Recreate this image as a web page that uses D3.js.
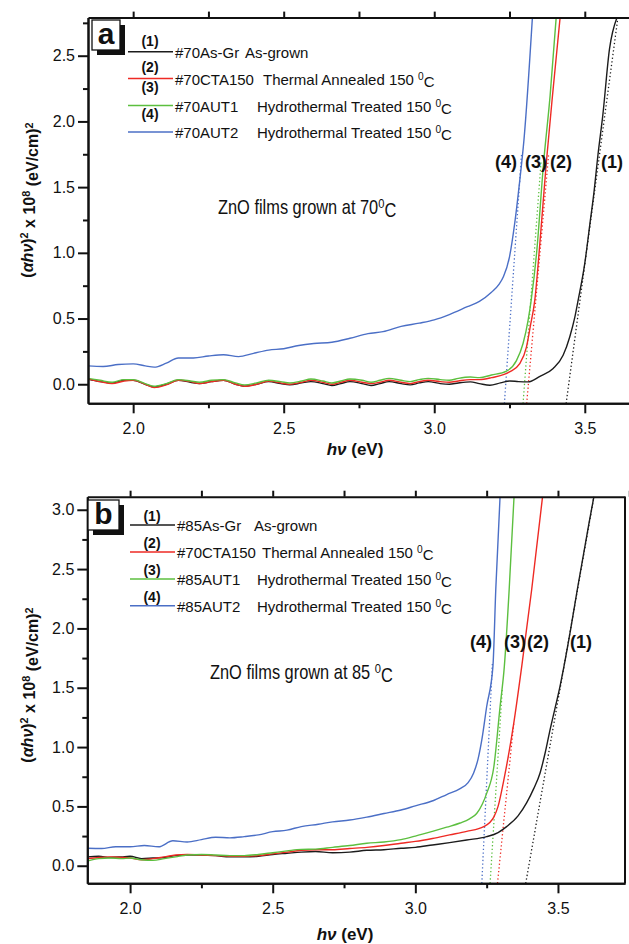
<!DOCTYPE html>
<html>
<head>
<meta charset="utf-8">
<script src="https://cdn.jsdelivr.net/npm/d3@7"></script>
<style>
  body { margin: 0; background: #fff; }
  text { font-family: "Liberation Sans", Arial, sans-serif; fill: #111; }
</style>
</head>
<body>
<script>
//-------- data --------

// panel a : films grown at 70 C  [hv (eV), (ahv)^2 x 1e8]
var a1 = [[1.85,0.04],[1.89,0.02],[1.93,0.01],[1.97,0.03],[2.00,0.03],[2.04,0.0],[2.07,-0.02],[2.11,0.0],[2.15,0.03],[2.19,0.015],
  [2.22,0.005],[2.26,0.02],[2.30,0.03],[2.34,0.0],[2.37,-0.015],[2.41,0.0],[2.45,0.02],[2.49,0.005],[2.52,-0.005],[2.56,0.01],
  [2.59,0.02],[2.63,0.005],[2.66,-0.01],[2.69,0.005],[2.72,0.02],[2.76,0.005],[2.79,-0.01],[2.82,0.005],[2.85,0.02],[2.89,0.005],
  [2.92,-0.005],[2.95,0.01],[2.98,0.02],[3.02,0.005],[3.05,0.0],[3.08,0.01],[3.12,0.018],[3.15,0.005],[3.185,-0.008],[3.22,0.01],
  [3.251,0.025],[3.28,0.02],[3.312,0.018],[3.351,0.06],[3.395,0.12],[3.428,0.22],[3.45,0.36],[3.467,0.51],[3.478,0.64],[3.50,0.92],
  [3.517,1.22],[3.53,1.45],[3.544,1.75],[3.56,2.05],[3.582,2.55],[3.607,2.79]];
var a2 = [[1.85,0.04],[1.89,0.02],[1.93,0.005],[1.97,0.025],[2.00,0.03],[2.04,0.0],[2.07,-0.025],[2.11,-0.005],[2.15,0.03],[2.19,0.02],
  [2.22,0.005],[2.26,0.02],[2.30,0.03],[2.34,0.0],[2.37,-0.015],[2.41,0.0],[2.45,0.025],[2.49,0.01],[2.52,0.0],[2.56,0.015],
  [2.59,0.03],[2.63,0.015],[2.66,0.0],[2.69,0.015],[2.72,0.03],[2.76,0.015],[2.79,0.005],[2.82,0.015],[2.85,0.03],[2.89,0.015],
  [2.92,0.005],[2.95,0.02],[2.98,0.03],[3.02,0.02],[3.05,0.015],[3.08,0.025],[3.12,0.035],[3.15,0.035],[3.19,0.05],[3.25,0.094],
  [3.284,0.157],[3.306,0.28],[3.319,0.44],[3.334,0.64],[3.35,1.05],[3.372,1.68],[3.395,2.25],[3.418,2.79]];
var a3 = [[1.85,0.045],[1.89,0.03],[1.93,0.015],[1.97,0.035],[2.00,0.035],[2.04,0.005],[2.07,-0.015],[2.11,0.005],[2.15,0.035],[2.19,0.025],
  [2.22,0.015],[2.26,0.03],[2.30,0.035],[2.34,0.01],[2.37,-0.005],[2.41,0.01],[2.45,0.03],[2.49,0.02],[2.52,0.01],[2.56,0.025],
  [2.59,0.04],[2.63,0.025],[2.66,0.01],[2.69,0.025],[2.72,0.04],[2.76,0.03],[2.79,0.015],[2.82,0.03],[2.85,0.045],[2.89,0.03],
  [2.92,0.02],[2.95,0.035],[2.98,0.045],[3.02,0.035],[3.05,0.03],[3.08,0.045],[3.12,0.055],[3.15,0.05],[3.19,0.07],[3.24,0.10],
  [3.273,0.18],[3.295,0.31],[3.312,0.49],[3.322,0.64],[3.34,1.0],[3.363,1.68],[3.385,2.2],[3.405,2.79]];
var a4 = [[1.85,0.14],[1.90,0.135],[1.95,0.15],[2.00,0.155],[2.04,0.14],[2.07,0.13],[2.11,0.16],[2.15,0.2],[2.20,0.2],[2.25,0.215],
  [2.30,0.225],[2.35,0.21],[2.40,0.235],[2.45,0.26],[2.50,0.27],[2.55,0.295],[2.60,0.31],[2.66,0.32],[2.72,0.35],[2.78,0.385],
  [2.83,0.40],[2.89,0.44],[2.95,0.465],[3.00,0.49],[3.05,0.53],[3.11,0.59],[3.15,0.63],[3.19,0.70],[3.215,0.76],[3.23,0.82],
  [3.25,0.97],[3.267,1.22],[3.284,1.55],[3.298,1.86],[3.326,2.79]];
// tangent (extrapolation) lines, panel a
var fitA = [[[3.438,-0.147],[3.61,2.79]], [[3.307,-0.147],[3.38,1.75]], [[3.295,-0.147],[3.355,1.7]], [[3.233,-0.147],[3.29,1.75]]];

// panel b : films grown at 85 C
var b1 = [[1.85,0.075],[1.89,0.08],[1.93,0.07],[1.97,0.075],[2.00,0.08],[2.04,0.06],[2.08,0.065],[2.12,0.07],[2.16,0.085],[2.20,0.09],
  [2.25,0.09],[2.30,0.085],[2.35,0.075],[2.40,0.075],[2.45,0.08],[2.50,0.095],[2.55,0.105],[2.60,0.115],[2.65,0.12],[2.71,0.11],
  [2.77,0.115],[2.83,0.13],[2.89,0.135],[2.95,0.147],[3.0,0.155],[3.06,0.175],[3.12,0.195],[3.18,0.217],[3.25,0.245],[3.29,0.28],
  [3.32,0.33],[3.36,0.42],[3.39,0.53],[3.415,0.65],[3.437,0.78],[3.455,0.95],[3.47,1.12],[3.49,1.33],[3.507,1.51],[3.521,1.68],
  [3.545,2.0],[3.568,2.33],[3.609,2.89],[3.626,3.11]];
var b2 = [[1.85,0.06],[1.89,0.07],[1.93,0.075],[1.97,0.07],[2.00,0.065],[2.04,0.05],[2.08,0.06],[2.12,0.075],[2.16,0.09],[2.20,0.095],
  [2.25,0.09],[2.30,0.085],[2.35,0.08],[2.40,0.08],[2.45,0.085],[2.50,0.1],[2.55,0.115],[2.60,0.13],[2.65,0.135],[2.71,0.135],
  [2.77,0.145],[2.83,0.155],[2.89,0.17],[2.95,0.19],[3.0,0.205],[3.06,0.23],[3.12,0.26],[3.18,0.29],[3.24,0.33],[3.275,0.41],
  [3.29,0.5],[3.31,0.72],[3.345,1.2],[3.373,1.68],[3.408,2.33],[3.446,3.11]];
var b3 = [[1.85,0.04],[1.89,0.06],[1.93,0.065],[1.97,0.06],[2.00,0.065],[2.04,0.05],[2.08,0.045],[2.12,0.06],[2.16,0.075],[2.20,0.09],
  [2.25,0.095],[2.30,0.09],[2.35,0.085],[2.40,0.085],[2.45,0.095],[2.50,0.11],[2.55,0.125],[2.60,0.138],[2.65,0.14],[2.71,0.155],
  [2.77,0.17],[2.83,0.19],[2.89,0.2],[2.95,0.22],[3.0,0.25],[3.06,0.29],[3.11,0.325],[3.157,0.36],[3.19,0.395],[3.215,0.44],
  [3.235,0.52],[3.25,0.61],[3.275,0.83],[3.297,1.34],[3.312,1.68],[3.329,2.33],[3.346,3.11]];
var b4 = [[1.85,0.147],[1.90,0.145],[1.95,0.16],[2.00,0.16],[2.05,0.17],[2.10,0.16],[2.15,0.21],[2.20,0.2],[2.25,0.22],[2.30,0.24],
  [2.35,0.235],[2.40,0.245],[2.45,0.26],[2.50,0.287],[2.55,0.30],[2.60,0.33],[2.66,0.35],[2.71,0.37],[2.77,0.385],[2.83,0.41],
  [2.89,0.44],[2.95,0.47],[3.0,0.505],[3.064,0.55],[3.11,0.6],[3.157,0.65],[3.185,0.70],[3.204,0.78],[3.22,0.9],[3.233,1.06],
  [3.25,1.34],[3.272,1.68],[3.282,2.33],[3.297,3.11]];
var fitB = [[[3.387,-0.148],[3.626,3.11]], [[3.288,-0.148],[3.345,1.2]], [[3.262,-0.148],[3.305,1.5]], [[3.233,-0.148],[3.27,1.7]]];

// legends and ticks
var seriesColors = ['#1c1c1c', '#ee2a24', '#5cbf3f', '#4b6fc6'];
var seriesTags = ['(1)', '(2)', '(3)', '(4)'];
var namesA = ['#70As-Gr', '#70CTA150', '#70AUT1', '#70AUT2'];
var namesB = ['#85As-Gr', '#70CTA150', '#85AUT1', '#85AUT2'];
var descs = ['As-grown', 'Thermal Annealed 150 ', 'Hydrothermal Treated 150 ', 'Hydrothermal Treated 150 '];
var xMajor = [2.0, 2.5, 3.0, 3.5];
var xMinor = [2.25, 2.75, 3.25, 3.75];
var yMajorA = [0.0, 0.5, 1.0, 1.5, 2.0, 2.5];
var yMinorA = [0.25, 0.75, 1.25, 1.75, 2.25, 2.75];
var yMajorB = [0.0, 0.5, 1.0, 1.5, 2.0, 2.5, 3.0];
var yMinorB = [0.25, 0.75, 1.25, 1.75, 2.25, 2.75];

//-------- layout of the two panels --------
// tagX is given per series (1)..(4); on the plot they read (4)(3)(2)(1) left to right
var panels = [
  { id: 'a', series: [a1, a2, a3, a4], fits: fitA, names: namesA,
    left: 88, right: 645, top: 17.6, bottom: 403.3, xDomain: [1.85, 3.7], yDomain: [-0.145, 2.79],
    yMajor: yMajorA, yMinor: yMinorA, rightFrame: false,
    box: [92, 20, 28, 30], legendX: 128, legendY: [51.7, 78.5, 105.5, 132], tagY: [46, 72, 92, 119], descX: [245, 263, 257, 257],
    note: 'ZnO films grown at 70', noteXY: [218, 214], tagRow: 168, tagX: [612, 561, 536, 506],
    yTitle: [33, 200], xTitle: [355, 455] },
  { id: 'b', series: [b1, b2, b3, b4], fits: fitB, names: namesB,
    left: 87.3, right: 625, top: 496.7, bottom: 883.3, xDomain: [1.85, 3.735], yDomain: [-0.148, 3.11],
    yMajor: yMajorB, yMinor: yMinorB, rightFrame: true,
    box: [88, 500, 31, 30], legendX: 130, legendY: [525, 552, 579, 605.7], tagY: [521, 548, 575, 602], descX: [254, 262, 257, 257],
    note: 'ZnO films grown at 85 ', noteXY: [210, 679], tagRow: 648, tagX: [581, 538, 515, 481],
    yTitle: [33, 685], xTitle: [345, 940] }
];

var svg = d3.select('body').append('svg').attr('width', 629).attr('height', 944);

// superscript helper: appends "base" then a raised small "sup" then "after"
function supText(sel, base, sup, after) {
  sel.append('tspan').text(base);
  sel.append('tspan').attr('dy', '-0.45em').style('font-size', '0.68em').text(sup);
  sel.append('tspan').attr('dy', '0.45em').text(after || '');
}

function drawPanel(p) {
  var x = d3.scaleLinear().domain(p.xDomain).range([p.left, p.right]);
  var y = d3.scaleLinear().domain(p.yDomain).range([p.bottom, p.top]);
  var g = svg.append('g').attr('class', 'panel-' + p.id);

  g.append('clipPath').attr('id', 'clip-' + p.id).append('rect')
    .attr('x', p.left).attr('y', p.top).attr('width', p.right - p.left).attr('height', p.bottom - p.top);

  // dotted tangent lines then curves
  var plot = g.append('g').attr('clip-path', 'url(#clip-' + p.id + ')');
  var line = d3.line().x(function(d) { return x(d[0]); }).y(function(d) { return y(d[1]); });
  plot.selectAll('.fit').data(p.fits).enter().append('path').attr('class', 'fit')
    .attr('d', line).attr('fill', 'none').attr('stroke', function(d, i) { return seriesColors[i]; })
    .attr('stroke-width', 1.3).attr('stroke-dasharray', '1.3,2.4');
  var curve = d3.line().x(function(d) { return x(d[0]); }).y(function(d) { return y(d[1]); }).curve(d3.curveMonotoneX);
  plot.selectAll('.curve').data(p.series).enter().append('path').attr('class', 'curve')
    .attr('d', curve).attr('fill', 'none').attr('stroke', function(d, i) { return seriesColors[i]; })
    .attr('stroke-width', 1.4);

  // axes: major + minor ticks on bottom/left, ticks also on top
  var fmt = d3.format('.1f');
  function styleAxis(ax) {
    ax.selectAll('path, line').attr('stroke', '#111').attr('stroke-width', 2);
    ax.selectAll('text').style('font-size', '16px').attr('fill', '#111');
  }
  var bottom = g.append('g').attr('transform', 'translate(0,' + p.bottom + ')')
    .call(d3.axisBottom(x).tickValues(xMajor).tickSize(10).tickSizeOuter(0).tickPadding(9).tickFormat(fmt));
  styleAxis(bottom);
  styleAxis(g.append('g').attr('transform', 'translate(0,' + p.bottom + ')')
    .call(d3.axisBottom(x).tickValues(xMinor.filter(function(v) { return v <= p.xDomain[1]; })).tickSize(5).tickSizeOuter(0).tickFormat('')));
  styleAxis(g.append('g').attr('transform', 'translate(0,' + p.top + ')')
    .call(d3.axisTop(x).tickValues(xMajor.concat(xMinor)).tickSize(6).tickSizeOuter(0).tickFormat('')));
  var left = g.append('g').attr('transform', 'translate(' + p.left + ',0)')
    .call(d3.axisLeft(y).tickValues(p.yMajor).tickSize(10).tickSizeOuter(0).tickPadding(3).tickFormat(fmt));
  styleAxis(left);
  styleAxis(g.append('g').attr('transform', 'translate(' + p.left + ',0)')
    .call(d3.axisLeft(y).tickValues(p.yMinor).tickSize(5).tickSizeOuter(0).tickFormat('')));
  if (p.rightFrame) {
    g.append('line').attr('x1', p.right).attr('x2', p.right).attr('y1', p.top).attr('y2', p.bottom)
      .attr('stroke', '#111').attr('stroke-width', 2);
  }

  // axis titles
  var yt = g.append('text').attr('transform', 'translate(' + p.yTitle[0] + ',' + p.yTitle[1] + ') rotate(-90)')
    .attr('text-anchor', 'middle').style('font-size', '16px').style('font-weight', 'bold');
  yt.append('tspan').text('(');
  yt.append('tspan').style('font-style', 'italic').text('\u03b1h\u03bd');
  supText(yt, ')', '2', ' x 10');
  supText(yt, '', '8', ' (eV/cm)');
  supText(yt, '', '2', '');

  var xt = g.append('text').attr('x', p.xTitle[0]).attr('y', p.xTitle[1]).attr('text-anchor', 'middle')
    .style('font-size', '17px').style('font-weight', 'bold');
  xt.append('tspan').style('font-style', 'italic').text('h\u03bd');
  xt.append('tspan').text(' (eV)');

  // panel letter box with shadow
  var b = p.box;
  g.append('rect').attr('x', b[0] + 5).attr('y', b[1] + 5).attr('width', b[2]).attr('height', b[3]).attr('fill', '#111');
  g.append('rect').attr('x', b[0]).attr('y', b[1]).attr('width', b[2]).attr('height', b[3])
    .attr('fill', '#fff').attr('stroke', '#111').attr('stroke-width', 1.3);
  g.append('text').attr('x', b[0] + b[2] / 2).attr('y', b[1] + b[3] - 6).attr('text-anchor', 'middle')
    .style('font-size', '30px').style('font-weight', 'bold').text(p.id);

  // legend
  var leg = g.append('g');
  p.names.forEach(function(name, i) {
    var ly = p.legendY[i];
    leg.append('line').attr('x1', p.legendX).attr('x2', p.legendX + 45).attr('y1', ly).attr('y2', ly)
      .attr('stroke', seriesColors[i]).attr('stroke-width', 1.6);
    leg.append('text').attr('x', p.legendX + 22).attr('y', p.tagY[i]).attr('text-anchor', 'middle')
      .style('font-size', '14px').style('font-weight', 'bold').text(seriesTags[i]);
    var t = leg.append('text').attr('x', p.legendX + 47).attr('y', ly + 6).style('font-size', '15px');
    t.append('tspan').text(name);
    var d = t.append('tspan').attr('x', p.descX[i]);
    if (i === 0) d.text(descs[i]);
    else supText(d, descs[i], '0', 'C');
  });

  // annotation (condensed lettering) and curve tags
  var note = g.append('text')
    .attr('transform', 'translate(' + p.noteXY[0] + ',' + p.noteXY[1] + ') scale(0.82,1)')
    .style('font-size', '20px');
  supText(note, p.note, '0', 'C');
  g.selectAll('.tag').data(seriesTags).enter().append('text').attr('class', 'tag')
    .attr('x', function(d, i) { return p.tagX[i]; }).attr('y', p.tagRow).attr('text-anchor', 'middle')
    .style('font-size', '18px').style('font-weight', 'bold').text(function(d) { return d; });
}

panels.forEach(drawPanel);
</script>
</body>
</html>
